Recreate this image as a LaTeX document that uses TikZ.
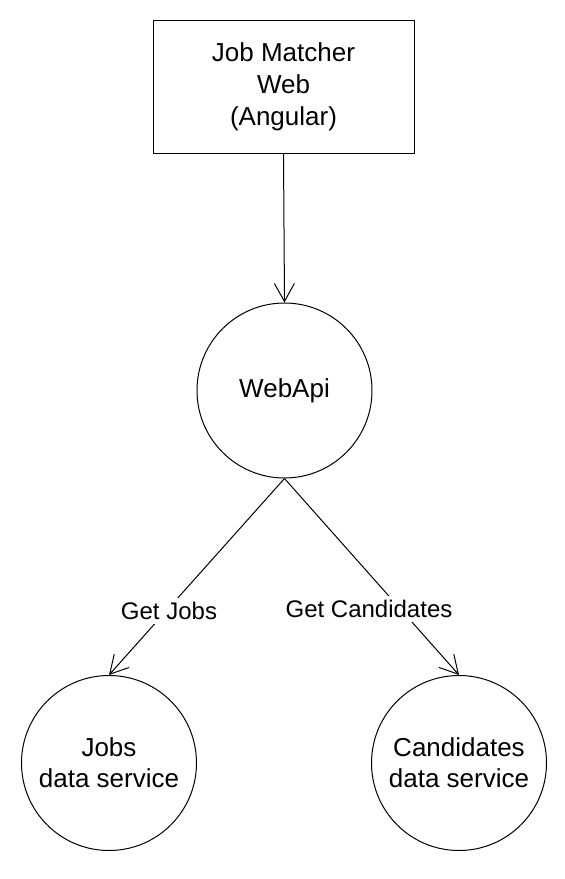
\documentclass[tikz,border=0pt]{standalone}
\usepackage{fontspec}
\setmainfont{Liberation Sans}
\usetikzlibrary{arrows.meta, positioning}

\begin{document}
\begin{tikzpicture}[x=0.5pt, y=-0.5pt,
    box/.style={rectangle, draw, line width=0.5pt, minimum width=130.5pt, minimum height=66.5pt, align=center, font=\fontsize{13}{16}\selectfont},
    svc/.style={circle, draw, line width=0.5pt, minimum size=87.5pt, inner sep=0pt, align=center, font=\fontsize{13}{15.5}\selectfont},
    lbl/.style={fill=white, inner sep=2pt, font=\fontsize{12}{14}\selectfont},
    arr/.style={-{Straight Barb[length=9pt, width=10pt]}, line width=0.5pt}]
      \useasboundingbox (0,0) rectangle (564,879);

      % Front end
      \node[box] (web) at (283.5,86.5) {Job Matcher\\Web\\(Angular)};

      % Api
      \node[svc] (api) at (284.5,390.5) {WebApi};

      % Data services
      \node[svc] (jobs) at (109,763) {Jobs\\data service};
      \node[svc] (cands) at (459,763) {Candidates\\data service};

      \draw[arr] (web.south) -- (api.north);
      \draw[arr] (api.south) -- (jobs.north);
      \draw[arr] (api.south) -- (cands.north);

      \node[lbl] (getjobs) at (169,611) {Get Jobs};
      \node[lbl] (getcands) at (369,609) {Get Candidates};
    \end{tikzpicture}
\end{document}
